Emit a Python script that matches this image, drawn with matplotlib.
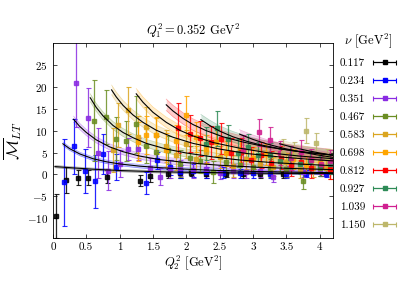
import matplotlib
matplotlib.use("Agg")
import matplotlib.pyplot as plt
import numpy as np
from matplotlib.container import ErrorbarContainer
from matplotlib.legend_handler import HandlerErrorbar

plt.rcParams.update({
    "font.family": "serif",
    "font.serif": ["cmr10", "DejaVu Serif"],
    "mathtext.fontset": "cm",
    "axes.formatter.use_mathtext": True,
    "axes.unicode_minus": True,
})

# nu values (legend) and colours
nu_labels = ["0.117", "0.234", "0.351", "0.467", "0.583",
             "0.698", "0.812", "0.927", "1.039", "1.150"]
colors = ["#000000", "#0000ff", "#8a2be2", "#6b8e23", "#daa520",
          "#ffa500", "#ff0000", "#2e8b57", "#d02090", "#bdb76b"]

# lattice points: Q2^2, M_LT, error
pts_x = [
    [0.04, 0.2, 0.37, 0.52, 0.81, 1.3, 1.45, 1.72, 1.9, 2.07, 2.3, 2.6, 2.85, 3.1, 3.45],
    [0.16, 0.31, 0.48, 0.63, 0.75, 0.94, 1.4, 1.56, 1.75, 1.91, 2.1, 2.3, 2.55, 2.8, 3.0, 3.25, 3.5, 3.8, 4.1],
    [0.35, 0.52, 0.67, 0.83, 1.0, 1.13, 1.28, 1.45, 1.6, 1.75, 1.9, 2.1, 2.3, 2.5, 2.7, 2.9, 3.1, 3.3, 3.5, 3.75, 4.0],
    [0.62, 0.79, 0.94, 1.1, 1.25, 1.4, 1.55, 1.72, 1.9, 2.05, 2.2, 2.4, 2.6, 2.8, 3.0, 3.25, 3.5, 3.75, 4.0],
    [0.9, 0.97, 1.13, 1.27, 1.4, 1.55, 1.7, 1.85, 2.0, 2.15, 2.3, 2.5, 2.7, 2.9, 3.1, 3.3, 3.5, 3.7, 3.9, 4.1],
    [1.28, 1.4, 1.55, 1.7, 1.85, 2.0, 2.15, 2.3, 2.45, 2.6, 2.8, 3.0, 3.2, 3.4, 3.6, 3.8, 4.0, 4.15],
    [1.88, 2.05, 2.2, 2.37, 2.52, 2.67, 2.82, 2.97, 3.12, 3.27, 3.42, 3.57, 3.72, 3.87, 4.02, 4.15],
    [2.3, 2.46, 2.62, 2.78, 2.93, 3.08, 3.25, 3.4, 3.55, 3.7, 3.85, 4.0, 4.15],
    [2.85, 3.09, 3.25, 3.41, 3.57, 3.72, 3.87, 4.02, 4.15],
    [3.45, 3.62, 3.8, 3.95, 4.11],
]
pts_y = [
    [-9.5, -1.3, -0.7, -0.7, -0.5, -1.4, -0.4, 0.2, 0.3, 0.4, 0.1, 0.2, 0.0, 0.1, 0.0],
    [-1.8, 6.4, 0.8, -1.6, 4.7, 1.7, -1.9, 3.2, 1.6, 0.6, 0.9, 0.5, 0.4, 0.3, 0.3, 0.2, 0.1, 0.2, 0.2],
    [20.8, 13.0, 4.9, 0.9, 2.5, 5.8, 5.9, 1.5, -0.5, 1.3, 1.5, 1.0, 1.2, 0.4, 0.8, 0.5, 0.9, -0.5, 0.7, 0.6, 0.8],
    [12.3, 13.1, 8.2, 7.6, 11.5, 6.6, 5.2, 5.5, 2.5, 3.8, 3.0, 0.5, 2.8, 2.2, 1.8, 1.5, 1.2, -1.5, 1.4],
    [5.5, 11.3, 14.6, 8.5, 10.8, 8.9, 6.5, 4.5, 7.0, 3.5, 5.2, 4.0, 2.0, 3.6, 2.5, 1.8, 2.8, 1.3, 1.5, 1.5],
    [7.5, 9.0, 8.9, 5.6, 7.6, 13.5, 8.5, 5.8, 7.3, 4.8, 5.5, 3.8, 4.6, 3.0, 3.5, 2.2, 2.6, 1.0],
    [10.6, 9.3, 8.3, 7.3, 8.2, 5.0, 5.2, 3.3, 4.5, 2.6, 3.9, 2.2, 2.8, 1.5, 2.0, 1.2],
    [7.0, 10.5, 8.0, 5.0, 6.2, 4.5, 4.4, 3.0, 3.8, 2.5, 3.0, 2.0, 2.4],
    [5.5, 9.6, 7.9, 4.9, 3.8, 5.1, 3.2, 2.5, 3.0],
    [5.0, 4.5, 10.0, 7.2, 3.9],
]
pts_err = [
    [5, 3, 1.8, 1.8, 1.5, 1.2, 1.3, 1, 1, 0.8, 0.8, 0.8, 0.8, 0.8, 0.8],
    [10, 6.3, 5, 6, 4.5, 3, 2.5, 2, 1.8, 1.5, 1.5, 1.3, 1.2, 1, 1, 1, 1, 0.8, 0.8],
    [10, 6.7, 5.8, 4.5, 3, 2.6, 2.5, 2.2, 2, 2, 1.8, 1.8, 1.6, 1.5, 1.5, 1.4, 1.4, 1.3, 1.3, 1.2, 1.2],
    [9.2, 6.2, 5, 4.5, 6.5, 4, 3.5, 3.2, 3, 2.8, 2.6, 2.5, 2.4, 2.2, 2, 2, 1.8, 1.8, 1.8],
    [5, 5, 5.3, 4.8, 4.5, 4, 3.6, 3.4, 3.2, 3, 2.8, 2.6, 2.5, 2.4, 2.2, 2.1, 2, 2, 2, 1.9],
    [4.5, 4.3, 4.2, 3.8, 3.6, 4.5, 3.4, 3.2, 3, 2.8, 2.7, 2.5, 2.4, 2.3, 2.2, 2.1, 2, 2],
    [5.7, 4.2, 4, 3.8, 3.6, 3.4, 3.2, 3, 3, 2.8, 2.7, 2.6, 2.5, 2.4, 2.3, 2.2],
    [3.8, 4, 3.3, 3.2, 3, 2.9, 2.8, 2.7, 2.6, 2.5, 2.4, 2.3, 2.3],
    [3.5, 3, 3, 2.8, 2.7, 2.7, 2.6, 2.5, 2.5],
    [3, 2.8, 2.8, 2.3, 2.0],
]

fit_x = [
    [0.03, 0.3, 0.6, 1.0, 1.5, 2.0, 2.5, 3.0, 3.5, 4.2],
    [0.15, 0.25, 0.4, 0.6, 0.8, 1.0, 1.3, 1.6, 2.0, 2.5, 3.0, 3.5, 4.2],
    [0.31, 0.4, 0.5, 0.65, 0.85, 1.05, 1.3, 1.6, 2.0, 2.5, 3.0, 3.5, 4.2],
    [0.56, 0.65, 0.75, 0.9, 1.05, 1.2, 1.4, 1.7, 2.0, 2.4, 2.8, 3.3, 3.8, 4.2],
    [0.88, 0.95, 1.05, 1.2, 1.35, 1.55, 1.8, 2.1, 2.5, 2.9, 3.4, 3.9, 4.2],
    [1.25, 1.35, 1.5, 1.7, 1.9, 2.1, 2.4, 2.8, 3.2, 3.7, 4.2],
    [1.7, 1.8, 1.95, 2.1, 2.3, 2.55, 2.85, 3.2, 3.6, 4.2],
    [2.22, 2.35, 2.5, 2.7, 2.9, 3.1, 3.4, 3.7, 4.2],
    [2.8, 3.0, 3.2, 3.45, 3.7, 3.95, 4.2],
    [3.4, 3.6, 3.8, 4.0, 4.2],
]
fit_y = [
    [1.8, 1.5, 1.2, 0.9, 0.65, 0.5, 0.4, 0.3, 0.25, 0.2],
    [7.0, 5.9, 4.7, 3.6, 2.9, 2.4, 1.9, 1.55, 1.2, 0.9, 0.7, 0.55, 0.4],
    [12.6, 11.0, 9.6, 7.9, 6.3, 5.2, 4.2, 3.4, 2.7, 2.1, 1.7, 1.4, 1.1],
    [17.5, 15.3, 13.4, 11.2, 9.6, 8.4, 7.1, 5.8, 4.9, 4.0, 3.3, 2.7, 2.3, 2.0],
    [19.3, 17.7, 15.8, 13.6, 11.9, 10.1, 8.5, 7.1, 5.8, 4.8, 4.0, 3.4, 3.1],
    [18.4, 16.5, 14.2, 11.9, 10.1, 8.8, 7.3, 6.0, 5.0, 4.2, 3.6],
    [15.9, 14.5, 12.8, 11.4, 10.0, 8.6, 7.4, 6.3, 5.4, 4.4],
    [12.5, 11.2, 9.9, 8.6, 7.6, 6.8, 5.9, 5.2, 4.4],
    [9.2, 8.0, 7.0, 6.0, 5.2, 4.5, 3.9],
    [7.0, 6.2, 5.5, 4.9, 4.4],
]
band_err = [0.25, 0.4, 0.7, 0.9, 1.1, 1.2, 1.3, 1.2, 1.0, 0.9]

fig = plt.figure(figsize=(4.07, 2.85), dpi=100)
ax = fig.add_axes([0.130, 0.165, 0.688, 0.684])

handles = []
for i in range(len(nu_labels)):
    c = colors[i]
    fx = np.array(fit_x[i])
    fy = np.array(fit_y[i])
    ax.fill_between(fx, fy - band_err[i], fy + band_err[i], color=c, alpha=0.2, lw=0, zorder=1)
    ax.plot(fx, fy - band_err[i], color=c, alpha=0.35, lw=0.5, zorder=1)
    ax.plot(fx, fy + band_err[i], color=c, alpha=0.35, lw=0.5, zorder=1)
    ax.errorbar(pts_x[i], pts_y[i], yerr=pts_err[i], fmt="s", color=c, ms=3.2,
                elinewidth=0.9, capsize=1.8, capthick=0.8, alpha=0.85, zorder=2 + 0.01 * i)
    ax.plot(fx, fy, color="black", lw=0.8, zorder=4)
    # legend proxy with horizontal bar
    h = ax.errorbar([np.nan], [np.nan], xerr=[1.0], fmt="s", color=c, ms=3.2,
                    elinewidth=0.9, capsize=1.8, capthick=0.8, label=nu_labels[i])
    handles.append(h)

ax.set_xlim(0, 4.2)
ax.set_ylim(-14.5, 30)
ax.set_xticks([0, 0.5, 1, 1.5, 2, 2.5, 3, 3.5, 4])
ax.set_xticklabels(["0", "0.5", "1", "1.5", "2", "2.5", "3", "3.5", "4"])
ax.set_yticks([-10, -5, 0, 5, 10, 15, 20, 25])
ax.tick_params(direction="in", top=True, right=True, labelsize=8, length=3, width=0.5)
for s in ax.spines.values():
    s.set_linewidth(0.6)

ax.set_title(r"$Q_1^2 = 0.352$ GeV$^2$", fontsize=9, pad=6)
ax.set_xlabel(r"$Q_2^2$ [GeV$^2$]", fontsize=9, labelpad=1)
ax.set_ylabel(r"$\overline{\mathcal{M}}_{LT}$", fontsize=12, labelpad=2)


def make_legend(anchor, spacing):
    return fig.legend(handles=handles, labels=nu_labels, loc="upper left",
                      bbox_to_anchor=anchor, frameon=False, fontsize=8,
                      markerfirst=False, handlelength=2.3, labelspacing=spacing,
                      handletextpad=0.6, title=r"$\nu$ [GeV$^2$]", title_fontsize=9,
                      handler_map={ErrorbarContainer: HandlerErrorbar(xerr_size=1.0)})


# place legend rows where they sit in the reference (first row ~63 px, last ~225 px
# from the top, labels starting ~340 px from the left)
W, H = fig.get_figwidth() * fig.dpi, fig.get_figheight() * fig.dpi
anchor = [0.815, 0.895]
spacing = 0.76
leg = make_legend(tuple(anchor), spacing)
for _ in range(3):
    fig.canvas.draw()
    r = fig.canvas.get_renderer()
    e0 = leg.get_texts()[0].get_window_extent(r)
    e1 = leg.get_texts()[-1].get_window_extent(r)
    top0 = H - (e0.y0 + e0.y1) / 2
    top1 = H - (e1.y0 + e1.y1) / 2
    pitch = (top1 - top0) / 9
    spacing += (18.0 - pitch) / (8 * fig.dpi / 72)
    anchor[1] += (top0 - 63.5) / H
    anchor[0] += (340 - e0.x0) / W
    leg.remove()
    leg = make_legend(tuple(anchor), spacing)

fig.savefig("out.png", dpi=100)
